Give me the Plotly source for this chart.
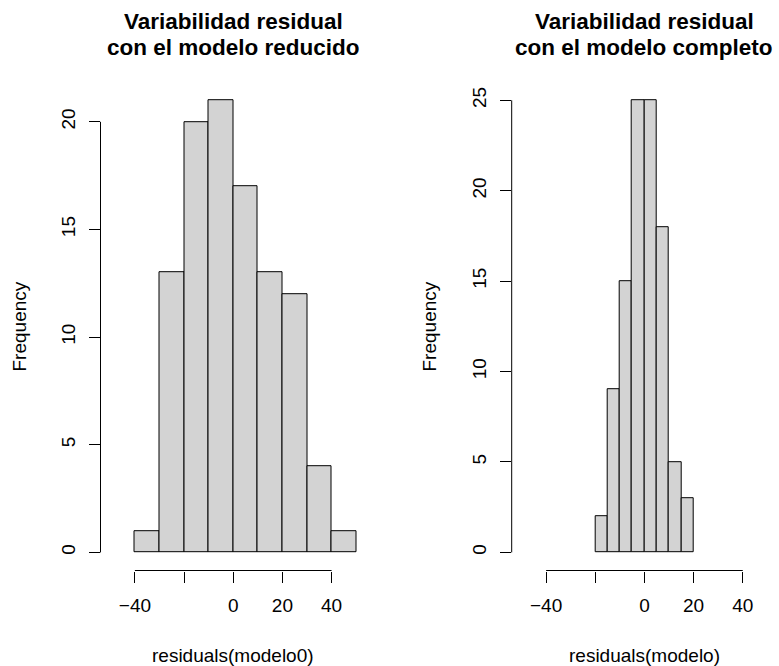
import plotly.graph_objects as go

# ---- data ----
breaks_reducido = [-40, -30, -20, -10, 0, 10, 20, 30, 40, 50]
counts_reducido = [1, 13, 20, 21, 17, 13, 12, 4, 1]
breaks_completo = [-20, -15, -10, -5, 0, 5, 10, 15, 20]
counts_completo = [2, 9, 15, 25, 25, 18, 5, 3]
x_tickvals = [-40, -20, 0, 20, 40]
x_ticktext = ["\u221240", "", "0", "20", "40"]
y_ticks_reducido = [0, 5, 10, 15, 20]
y_ticks_completo = [0, 5, 10, 15, 20, 25]
titles = [["Variabilidad residual", "con el modelo reducido"],
          ["Variabilidad residual", "con el modelo completo"]]
xlabels = ["residuals(modelo0)", "residuals(modelo)"]

W, H = 779, 666
FONT = "Liberation Sans, Arial, Helvetica, sans-serif"

def centers(b):
    return [(b[i] + b[i + 1]) / 2 for i in range(len(b) - 1)]

def widths(b):
    return [b[i + 1] - b[i] for i in range(len(b) - 1)]

fig = go.Figure()
fig.add_trace(go.Bar(x=centers(breaks_reducido), y=counts_reducido, width=widths(breaks_reducido),
                     marker=dict(color="#D3D3D3", line=dict(color="black", width=1)),
                     xaxis="x", yaxis="y", showlegend=False, hoverinfo="skip"))
fig.add_trace(go.Bar(x=centers(breaks_completo), y=counts_completo, width=widths(breaks_completo),
                     marker=dict(color="#D3D3D3", line=dict(color="black", width=1)),
                     xaxis="x2", yaxis="y2", showlegend=False, hoverinfo="skip"))

ydom = [(H - 570.5) / H, (H - 82.2) / H]
xdom1 = [100.5 / W, 366.0 / W]
xdom2 = [511.7 / W, 777.2 / W]

common_x = dict(range=[-54, 54], showgrid=False, zeroline=False, showline=False,
                ticks="outside", ticklen=11, tickwidth=1, tickcolor="black",
                tickvals=x_tickvals, ticktext=x_ticktext, ticklabelstandoff=7,
                tickfont=dict(family=FONT, size=19, color="black"))
common_y = dict(showgrid=False, zeroline=False, showline=False,
                ticks="outside", ticklen=11, tickwidth=1, tickcolor="black",
                tickangle=-90, ticklabelstandoff=6,
                tickfont=dict(family=FONT, size=19, color="black"))

fig.update_layout(
    width=W, height=H, margin=dict(l=0, r=0, t=0, b=0),
    paper_bgcolor="white", plot_bgcolor="white", bargap=0,
    xaxis=dict(domain=xdom1, anchor="y", **common_x),
    yaxis=dict(domain=ydom, anchor="x", range=[-0.84, 21.84], tickvals=y_ticks_reducido, **common_y),
    xaxis2=dict(domain=xdom2, anchor="y2", **common_x),
    yaxis2=dict(domain=ydom, anchor="x2", range=[-1, 26], tickvals=y_ticks_completo, **common_y),
)

shapes = []
for xa, ya, ymax in [("x", "y", max(y_ticks_reducido)), ("x2", "y2", max(y_ticks_completo))]:
    shapes.append(dict(type="line", xref=xa + " domain", yref=ya, x0=0, x1=0, y0=0, y1=ymax,
                       line=dict(color="black", width=1)))
    shapes.append(dict(type="line", xref=xa, yref=ya + " domain", x0=min(x_tickvals), x1=max(x_tickvals),
                       y0=0, y1=0, line=dict(color="black", width=1)))
fig.update_layout(shapes=shapes)

ann = []
for i, xd in enumerate([xdom1, xdom2]):
    cx = (xd[0] + xd[1]) / 2
    for j, ypx in enumerate([21.0, 47.8]):
        ann.append(dict(text="<b>" + titles[i][j] + "</b>", x=cx, y=1 - ypx / H, xref="paper", yref="paper",
                        xanchor="center", yanchor="middle", showarrow=False,
                        font=dict(family=FONT, size=22.5, color="black")))
    ann.append(dict(text=xlabels[i], x=cx, y=1 - 655 / H, xref="paper", yref="paper",
                    xanchor="center", yanchor="middle", showarrow=False,
                    font=dict(family=FONT, size=19, color="black")))
    ann.append(dict(text="Frequency", x=(19 + i * 410) / W, y=1 - 326.5 / H, xref="paper", yref="paper",
                    xanchor="center", yanchor="middle", showarrow=False, textangle=-90,
                    font=dict(family=FONT, size=19, color="black")))
fig.update_layout(annotations=ann)

fig.write_html("out.html")
